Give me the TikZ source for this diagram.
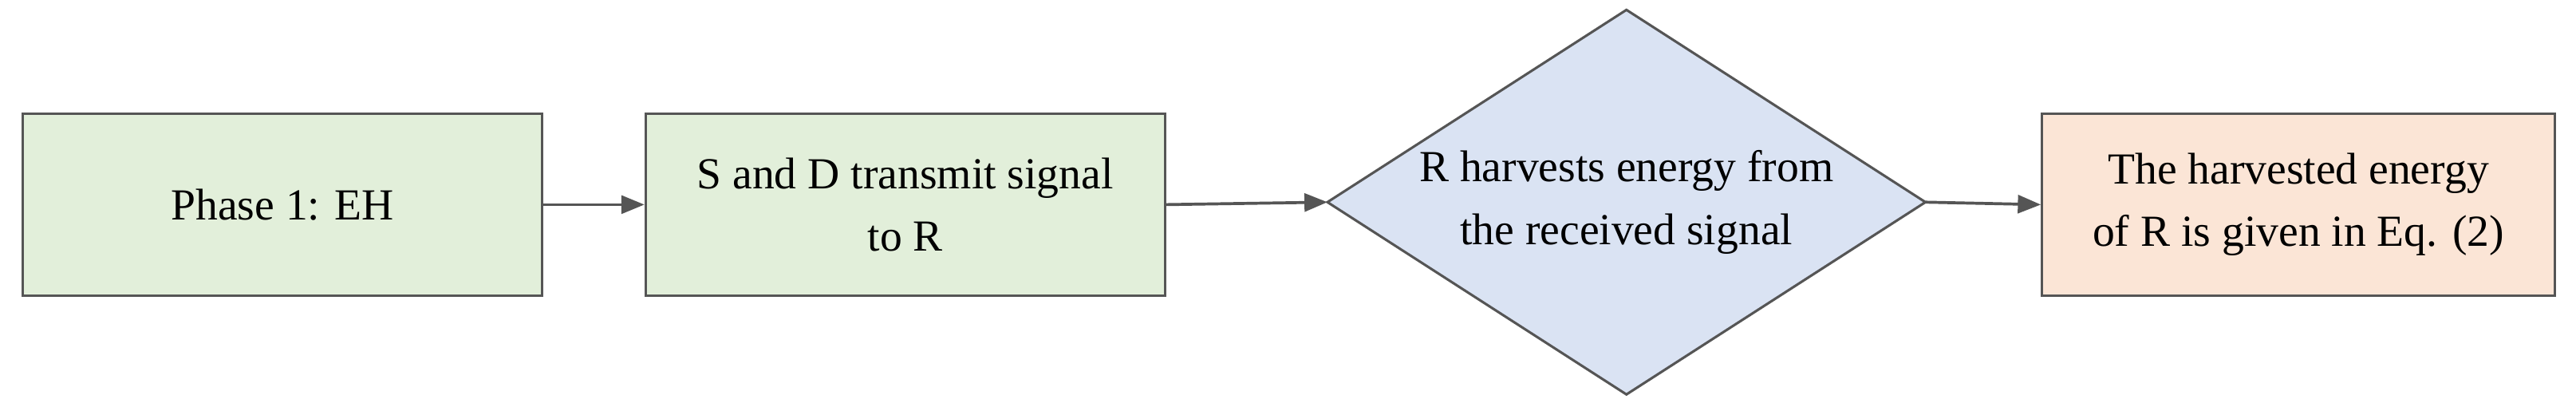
\documentclass[tikz,border=0pt]{standalone}
\usepackage{fontspec}
\setmainfont{Liberation Serif}
\usetikzlibrary{shapes.geometric,arrows.meta}
\definecolor{gfill}{HTML}{E2EFDA}
\definecolor{bfill}{HTML}{DAE3F3}
\definecolor{ofill}{HTML}{FBE5D6}
\definecolor{edge}{HTML}{555555}
\begin{document}
\begin{tikzpicture}[x=1pt,y=-1pt,
  txt/.style={align=center,font=\fontsize{27}{38}\selectfont,inner sep=0pt},
  box/.style={txt,draw=edge,line width=1.5pt,minimum width=316pt,minimum height=111pt},
  arr/.style={draw=edge,line width=1.8pt,-{Triangle[length=14pt,width=11pt]}}]
\useasboundingbox (0,0) rectangle (1568,252.5);
\node[box,fill=gfill] (a) at (172,124.5) {Phase 1: EH};
\node[box,fill=gfill] (b) at (551,124.5) {S and D transmit signal\\to R};
\coordinate (cl) at (808,123);
\coordinate (cr) at (1172,123);
\draw[draw=edge,line width=1.5pt,fill=bfill] (cl) -- (990,6) -- (cr) -- (990,240) -- cycle;
\node[txt] (c) at (990,123) {R harvests energy from\\the received signal};
\node[box,fill=ofill,minimum width=312pt] (d) at (1399,124.5) {The harvested energy\\of R is given in Eq. (2)};
\draw[arr] (a) -- (b);
\draw[arr] (b.east) -- (cl);
\draw[arr] (cr) -- (d.west);
\end{tikzpicture}
\end{document}
